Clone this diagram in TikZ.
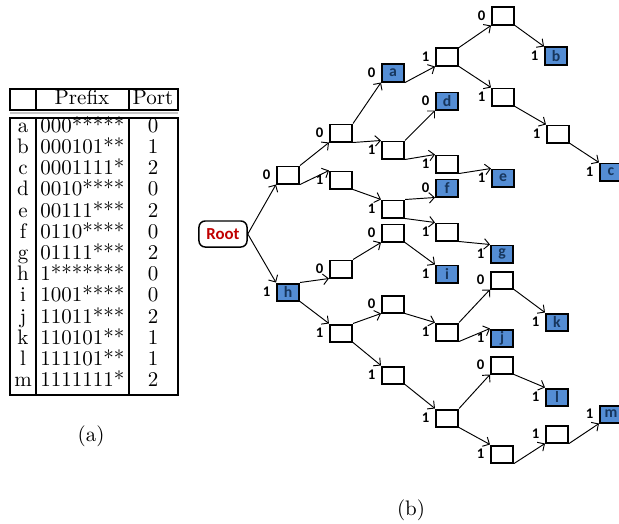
\documentclass[tikz,border=0pt]{standalone}
\usepackage{fontspec}
\usepackage{xcolor}
\usetikzlibrary{arrows.meta,positioning}
\newfontfamily\calib{Carlito}
\definecolor{pfx}{RGB}{84,141,212}
\definecolor{pfxtxt}{RGB}{23,54,93}
\definecolor{rootred}{RGB}{192,0,0}

\begin{document}
\begin{tikzpicture}[x=0.4762pt,y=-0.4762pt,
  trie/.style={draw,line width=0.95pt,minimum width=10.5pt,minimum height=8.1pt,inner sep=0pt,font=\calib\bfseries\fontsize{7.5}{8}\selectfont},
  hit/.style={trie,fill=pfx,text=pfxtxt},
  rootbox/.style={draw,line width=0.7pt,rounded corners=3pt,minimum width=22.9pt,minimum height=12.4pt,inner sep=0pt,text=rootred,font=\calib\bfseries\fontsize{8}{9}\selectfont},
  bit/.style={font=\calib\bfseries\fontsize{7}{8}\selectfont,inner sep=0.5pt},
  b0/.style={label={[bit,label distance=2pt]left:0}},
  b1/.style={label={[bit,label distance=2pt]left:1}},
  cell/.style={inner sep=0pt,text height=7pt,text depth=2pt},
  ar/.style={-{Straight Barb[length=2.5pt,width=5pt]},line width=0.45pt}
]
\useasboundingbox (0,0) rectangle (619,523);
% (a) prefix table
\draw[line width=0.6pt] (10,89) rectangle (178,110) (36,89) -- (36,110) (129,89) -- (129,110);
\draw[gray!45,line width=1pt] (10,113) -- (178,113);
\draw[line width=0.6pt] (10,118) rectangle (178,395) (36,118) -- (36,395) (129,118) -- (129,395);
\node[cell] (hpre) at (82,99) {Prefix};
\node[cell] (hport) at (153,99) {Port};
\foreach \l/\p/\o [count=\r from 0] in {a/000*****/0,b/000101**/1,c/0001111*/2,d/0010****/0,e/00111***/2,f/0110****/0,g/01111***/2,h/1*******/0,i/1001****/0,j/11011***/2,k/110101**/1,l/111101**/1,m/1111111*/2}{
  \node[cell] (nm\r) at (23,{127+21.2*\r}) {\l};
  \node[cell,anchor=west] (pf\r) at (40,{127+21.2*\r}) {\p};
  \node[cell] (pt\r) at (153,{127+21.2*\r}) {\o};
}
\node (capa) at (91,436) {(a)};

% (b) binary trie
\node[rootbox] (root) at (223,234) {Root};
\node[trie,b0] (n0) at (288,175) {};
\node[hit,b1] (h) at (288,292) {h};
\node[trie,b0] (n00) at (341,133) {};
\node[trie,b1] (n01) at (341,180) {};
\node[trie,b0] (n10) at (341,269) {};
\node[trie,b1] (n11) at (341,333) {};
\node[hit,b0] (a) at (393,73) {a};
\node[trie,b1] (n001) at (393,150) {};
\node[trie,b1] (n011) at (393,209) {};
\node[trie,b0] (n100) at (393,233) {};
\node[trie,b0] (n110) at (393,304) {};
\node[trie,b1] (n111) at (393,375) {};
\node[trie,b1] (n0001) at (447,57) {};
\node[hit,b0] (d) at (447,101) {d};
\node[trie,b1] (n0011) at (447,164) {};
\node[hit,b0] (f) at (447,188) {f};
\node[trie,b1] (n0111) at (447,232) {};
\node[hit,b1] (i) at (447,274) {i};
\node[trie,b1] (n1101) at (447,332) {};
\node[trie,b1] (n1111) at (447,418) {};
\node[trie,b0] (n00010) at (503,16) {};
\node[trie,b1] (n00011) at (503,97) {};
\node[hit,b1] (e) at (503,178) {e};
\node[hit,b1] (g) at (502,254) {g};
\node[trie,b0] (n11010) at (502,280) {};
\node[hit,b1] (j) at (502,338) {j};
\node[trie,b0] (n11110) at (502,365) {};
\node[trie,b1] (n11111) at (502,454) {};
\node[hit,b1] (b) at (556,56) {b};
\node[trie,b1] (n000111) at (558,134) {};
\node[hit,b1] (k) at (557,322) {k};
\node[hit,b1] (l) at (557,397) {l};
\node[trie,b1] (n111111) at (557,434) {};
\node[hit,b1] (c) at (611,172) {c};
\node[hit,b1] (m) at (611,414) {m};
\draw[ar] (root.east) -- (n0.south west);
\draw[ar] (root.east) -- (h.north west);
\draw[ar] (n0.north east) -- (n00.south west);
\draw[ar] (n0.south east) -- (n01.north west);
\draw[ar] (h.north east) -- (n10.south west);
\draw[ar] (h.south east) -- (n11.north west);
\draw[ar] (n00.north east) -- (a.south west);
\draw[ar] (n00.south east) -- (n001.north west);
\draw[ar] (n01.south east) -- (n011.north west);
\draw[ar] (n10.north east) -- (n100.south west);
\draw[ar] (n11.north east) -- (n110.south west);
\draw[ar] (n11.south east) -- (n111.north west);
\draw[ar] (a.south east) -- (n0001.south west);
\draw[ar] (n001.north east) -- (d.south west);
\draw[ar] (n001.south east) -- (n0011.north west);
\draw[ar] (n011.north east) -- (f.south west);
\draw[ar] (n011.south east) -- (n0111.north west);
\draw[ar] (n100.south east) -- (i.north west);
\draw[ar] (n110.south east) -- (n1101.north west);
\draw[ar] (n111.south east) -- (n1111.north west);
\draw[ar] (n0001.north east) -- (n00010.south west);
\draw[ar] (n0001.south east) -- (n00011.north west);
\draw[ar] (n0011.south east) -- (e.north west);
\draw[ar] (n0111.south east) -- (g.north west);
\draw[ar] (n1101.north east) -- (n11010.south west);
\draw[ar] (n1101.south east) -- (j.north west);
\draw[ar] (n1111.north east) -- (n11110.south west);
\draw[ar] (n1111.south east) -- (n11111.north west);
\draw[ar] (n00010.south east) -- (b.north west);
\draw[ar] (n00011.south east) -- (n000111.north west);
\draw[ar] (n11010.south east) -- (k.north west);
\draw[ar] (n11110.south east) -- (l.north west);
\draw[ar] (n11111.south east) -- (n111111.south west);
\draw[ar] (n000111.south east) -- (c.north west);
\draw[ar] (n111111.south east) -- (m.south west);
\node (capb) at (411,510) {(b)};
\end{tikzpicture}
\end{document}
